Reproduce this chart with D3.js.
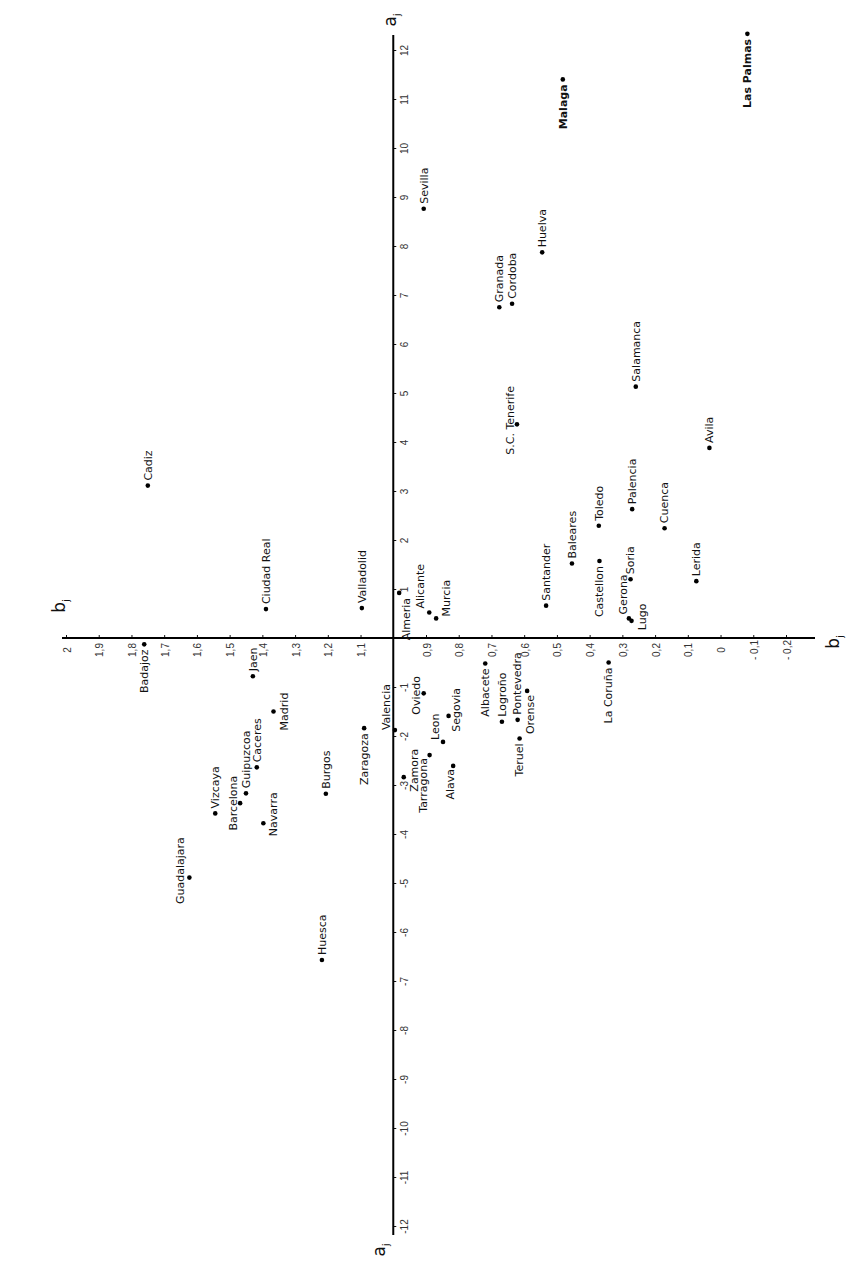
<!DOCTYPE html>
<html>
<head>
<meta charset="utf-8">
<script src="https://cdn.jsdelivr.net/npm/d3@7"></script>
<style>
  html, body { margin: 0; padding: 0; background: #fff; }
  svg { display: block; }
</style>
</head>
<body>
<div id="chart"></div>
<script>
// provinces and their scores on the two axes (a_j horizontal in the original, b_j vertical)
const provinces = [
  'Las Palmas', 'Malaga', 'Sevilla', 'Huelva', 'Granada', 'Cordoba', 'S.C. Tenerife',
  'Salamanca', 'Avila', 'Palencia', 'Toledo', 'Cuenca', 'Baleares', 'Castellon',
  'Soria', 'Lerida', 'Santander', 'Gerona', 'Lugo', 'Alicante', 'Murcia', 'Almeria',
  'Valladolid', 'Ciudad Real', 'Cadiz', 'Badajoz', 'Jaen', 'Madrid', 'Zaragoza',
  'Valencia', 'Caceres', 'Guipuzcoa', 'Barcelona', 'Vizcaya', 'Navarra', 'Burgos',
  'Guadalajara', 'Huesca', 'Oviedo', 'Segovia', 'Leon', 'Zamora', 'Tarragona',
  'Alava', 'Albacete', 'Logroño', 'Pontevedra', 'Teruel', 'Orense', 'La Coruña'
];
const aValues = [
  12.33, 11.40, 8.76, 7.87, 6.75, 6.82, 4.36,
  5.13, 3.88, 2.63, 2.29, 2.24, 1.52, 1.57,
  1.20, 1.16, 0.66, 0.40, 0.35, 0.52, 0.40, 0.92,
  0.61, 0.59, 3.11, -0.13, -0.78, -1.50, -1.84,
  -1.88, -2.64, -3.17, -3.37, -3.58, -3.78, -3.18,
  -4.89, -6.57, -1.13, -1.59, -2.12, -2.84, -2.39,
  -2.61, -0.52, -1.71, -1.67, -2.05, -1.08, -0.50
];
const bValues = [
  -0.082, 0.482, 0.907, 0.545, 0.676, 0.637, 0.622,
  0.259, 0.034, 0.270, 0.372, 0.171, 0.454, 0.370,
  0.275, 0.074, 0.533, 0.280, 0.272, 0.890, 0.869, 0.982,
  1.096, 1.389, 1.750, 1.761, 1.429, 1.366, 1.089,
  0.995, 1.417, 1.450, 1.468, 1.544, 1.397, 1.206,
  1.623, 1.218, 0.907, 0.831, 0.848, 0.968, 0.889,
  0.817, 0.719, 0.668, 0.620, 0.614, 0.591, 0.342
];
const aTicks = [-12, -11, -10, -9, -8, -7, -6, -5, -4, -3, -2, -1, 1, 2, 3, 4, 5, 6, 7, 8, 9, 10, 11, 12];
const bTicks = [2.0, 1.9, 1.8, 1.7, 1.6, 1.5, 1.4, 1.3, 1.2, 1.1, 0.9, 0.8, 0.7, 0.6, 0.5, 0.4, 0.3, 0.2, 0.1, 0, -0.1, -0.2];
const boldNames = ['Las Palmas', 'Malaga'];

const width = 848;
const height = 1263;

// the figure is printed turned a quarter: a_j runs up the page, b_j grows to the left
const aScale = d3.scaleLinear().domain([-12, 12]).range([1226, 50]);
const bScale = d3.scaleLinear().domain([2.0, -0.2]).range([66, 786]);

// where each label sits relative to its dot: [dx, dy, anchor] (text reads bottom to top)
const UP = [0, -5, 'start'];
const DOWN = [0, 5, 'end'];
const labelPlace = {
  'Las Palmas': DOWN, 'Malaga': DOWN, 'Castellon': DOWN, 'Badajoz': DOWN,
  'Zaragoza': DOWN, 'Albacete': DOWN, 'Teruel': DOWN, 'La Coruña': DOWN,
  'Orense': [3, 4, 'end'], 'Tarragona': [-6, 3, 'end'], 'Alava': [-3, 3, 'end'],
  'S.C. Tenerife': [-7, -4, 'middle'], 'Lugo': [11, -4, 'middle'],
  'Gerona': [-6, -4, 'start'], 'Alicante': [-9, -4, 'start'], 'Murcia': [10, -2, 'start'],
  'Almeria': [7, 5, 'end'], 'Madrid': [11, 0, 'middle'], 'Valencia': [-9, 0, 'start'],
  'Barcelona': [-7, 0, 'middle'], 'Navarra': [10, -9, 'middle'],
  'Guadalajara': [-9, -7, 'middle'], 'Oviedo': [-8, 2, 'middle'],
  'Segovia': [8, -6, 'middle'], 'Leon': [-8, -2, 'start'], 'Zamora': [10, -7, 'middle']
};

const svg = d3.select('#chart')
  .append('svg')
  .attr('width', width)
  .attr('height', height)
  .style('font-family', '"DejaVu Sans", sans-serif');

const x0 = bScale(1.0);   // where the a axis crosses
const y0 = aScale(0);     // where the b axis crosses

// a_j axis
const aAxis = d3.axisRight(aScale)
  .tickValues(aTicks)
  .tickSize(3)
  .tickSizeOuter(0)
  .tickFormat(d => String(d));

const gA = svg.append('g')
  .attr('transform', `translate(${x0},0)`)
  .call(aAxis);
gA.select('.domain').remove();
gA.selectAll('line').attr('stroke', '#111');
gA.selectAll('text')
  .attr('x', null)
  .attr('dy', null)
  .attr('text-anchor', 'middle')
  .attr('transform', 'translate(15,0) rotate(-90)')
  .style('font-size', '10px')
  .attr('fill', '#333');

// b_j axis
const fmtB = d => {
  if (d === 0) return '0';
  if (d === 2) return '2';
  const s = d3.format('.1f')(Math.abs(d)).replace('.', ',');
  return d < 0 ? '- ' + s : s;
};
const bAxis = d3.axisTop(bScale)
  .tickValues(bTicks)
  .tickSize(3)
  .tickSizeOuter(0)
  .tickFormat(fmtB);

const gB = svg.append('g')
  .attr('transform', `translate(0,${y0})`)
  .call(bAxis);
gB.select('.domain').remove();
gB.selectAll('line').attr('stroke', '#111');
gB.selectAll('text')
  .attr('y', null)
  .attr('dy', null)
  .attr('text-anchor', 'middle')
  .attr('transform', 'translate(4,12) rotate(-90)')
  .style('font-size', '10px')
  .attr('fill', '#333');

// the two main axis lines, a bit longer than the tick range
svg.append('line')
  .attr('x1', x0).attr('x2', x0)
  .attr('y1', aScale.range()[1] - 15).attr('y2', aScale.range()[0] + 9)
  .attr('stroke', '#000').attr('stroke-width', 2);
svg.append('line')
  .attr('x1', bScale.range()[0] - 4).attr('x2', bScale.range()[1] + 29)
  .attr('y1', y0).attr('y2', y0)
  .attr('stroke', '#000').attr('stroke-width', 2);

// axis names
function axisName(name, x, y) {
  const t = svg.append('text')
    .attr('transform', `translate(${x},${y}) rotate(-90)`)
    .attr('text-anchor', 'middle')
    .style('font-size', '17px')
    .attr('fill', '#111');
  t.append('tspan').text(name);
  t.append('tspan').attr('dy', 4).style('font-size', '9px').text('j');
}
axisName('a', x0 + 3, aScale.range()[1] - 30);
axisName('a', x0 - 8, aScale.range()[0] + 24);
axisName('b', bScale.range()[0] - 1, y0 - 32);
axisName('b', bScale.range()[1] + 53, y0 + 4);

// points
const points = provinces.map((name, i) => ({ name, a: aValues[i], b: bValues[i] }));

svg.append('g')
  .selectAll('circle')
  .data(points)
  .enter().append('circle')
  .attr('cx', d => bScale(d.b))
  .attr('cy', d => aScale(d.a))
  .attr('r', 2.3)
  .attr('fill', '#000');

svg.append('g')
  .selectAll('text')
  .data(points)
  .enter().append('text')
  .attr('transform', d => {
    const p = labelPlace[d.name] || UP;
    return `translate(${bScale(d.b) + p[0]},${aScale(d.a) + p[1]}) rotate(-90)`;
  })
  .attr('text-anchor', d => (labelPlace[d.name] || UP)[2])
  .attr('dy', '0.35em')
  .style('font-size', '11px')
  .style('font-weight', d => boldNames.includes(d.name) ? 'bold' : 'normal')
  .attr('fill', '#111')
  .text(d => d.name);
</script>
</body>
</html>
